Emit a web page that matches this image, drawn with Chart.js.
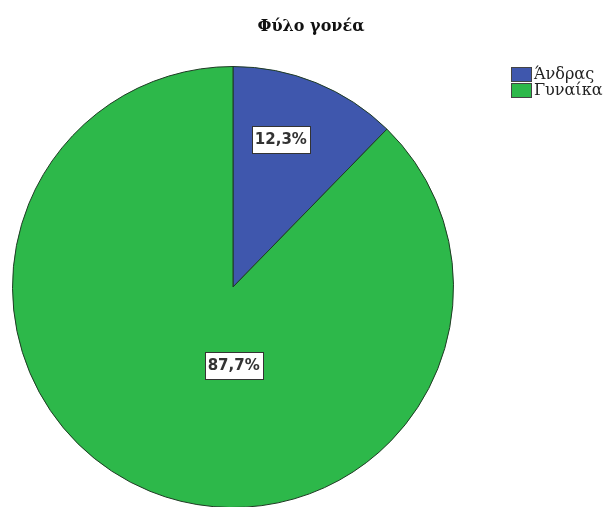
<!DOCTYPE html>
<html lang="el">
<head>
  <meta charset="UTF-8">
  <title>Φύλο γονέα</title>
  <script src="https://cdn.jsdelivr.net/npm/chart.js"></script>
  <style>
    html, body { margin: 0; padding: 0; background: #fff; overflow: hidden; }
    #wrap { position: absolute; left: 0; top: 0; width: 615px; height: 508px; }
  </style>
</head>
<body>
  <div id="wrap"><canvas id="myChart" width="615" height="508"></canvas></div>
  <script>
    // data
    const chartTitle = 'Φύλο γονέα';
    const categories = ['Άνδρας', 'Γυναίκα'];
    const percents = [12.3, 87.7];
    const sliceColors = ['#3f57ad', '#2db84a'];

    // where each % box sits, relative to pie centre, in units of radius
    const labelSpots = [
      { x: 0.217, y: -0.67 },
      { x: 0.003, y: 0.355 }
    ];

    const fmt = v => v.toFixed(1).replace('.', ',') + '%';

    // title, legend and value boxes drawn over the pie
    const extras = {
      id: 'extras',
      afterDraw(chart) {
        const ctx = chart.ctx;
        const arcs = chart.getDatasetMeta(0).data;
        ctx.save();

        // title
        ctx.fillStyle = '#111';
        ctx.font = 'bold 16px "DejaVu Serif", serif';
        ctx.textAlign = 'center';
        ctx.textBaseline = 'middle';
        ctx.fillText(chartTitle, 311, 27);

        // value boxes
        ctx.font = 'bold 15px "DejaVu Sans", sans-serif';
        arcs.forEach((arc, i) => {
          const r = arc.outerRadius;
          const cx = arc.x + labelSpots[i].x * r;
          const cy = arc.y + labelSpots[i].y * r;
          const txt = fmt(chart.data.datasets[0].data[i]);
          const w = 58, h = 27;
          const bx = Math.round(cx - w / 2) + 0.5, by = Math.round(cy - h / 2) + 0.5;
          ctx.fillStyle = '#fff';
          ctx.fillRect(bx, by, w, h);
          ctx.strokeStyle = '#333';
          ctx.lineWidth = 1;
          ctx.strokeRect(bx, by, w, h);
          ctx.fillStyle = '#333';
          ctx.fillText(txt, cx, cy + 1);
        });

        // legend
        ctx.font = '16px "DejaVu Serif", serif';
        ctx.textAlign = 'left';
        chart.data.labels.forEach((lab, i) => {
          const y = 67 + i * 16;
          ctx.fillStyle = chart.data.datasets[0].backgroundColor[i];
          ctx.fillRect(511, y, 20, 14);
          ctx.strokeStyle = '#444';
          ctx.strokeRect(511.5, y + 0.5, 20, 14);
          ctx.fillStyle = '#222';
          ctx.fillText(lab, 534, y + 8);
        });
        ctx.restore();
      }
    };

    new Chart(document.getElementById('myChart'), {
      type: 'pie',
      data: {
        labels: categories,
        datasets: [{
          data: percents,
          backgroundColor: sliceColors,
          borderColor: '#1f3b24',
          borderWidth: 1
        }]
      },
      options: {
        responsive: false,
        animation: false,
        layout: { padding: { top: 66, left: 12, right: 161, bottom: 0 } },
        plugins: {
          legend: { display: false },
          title: { display: false },
          tooltip: { enabled: false }
        }
      },
      plugins: [extras]
    });
  </script>
</body>
</html>
